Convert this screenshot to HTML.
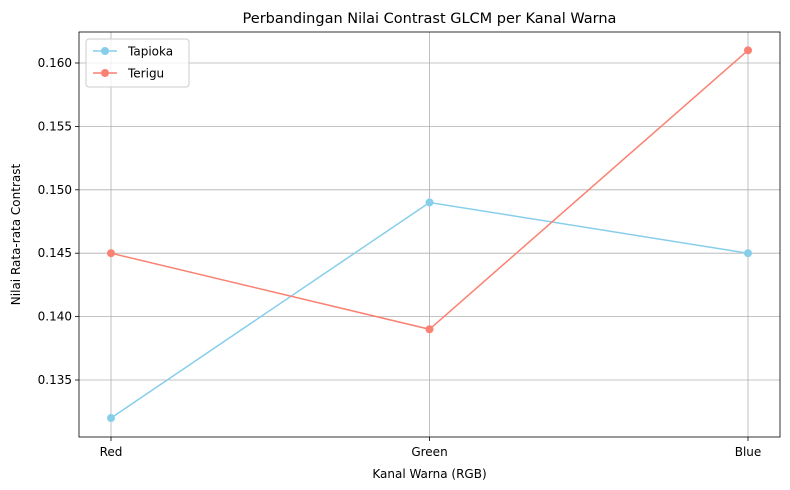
<!DOCTYPE html>
<html><head><meta charset="utf-8"><style>
body{margin:0;background:#fff;}
svg{display:block;font-family:"DejaVu Sans","Liberation Sans",sans-serif;}
</style></head><body>
<svg id="chart" width="790" height="490">
<rect x="0" y="0" width="790" height="490" fill="#fff"/>
<text x="429.5" y="23" text-anchor="middle" font-size="14.5" fill="#000">Perbandingan Nilai Contrast GLCM per Kanal Warna</text>
<g id="grid"></g>
<g id="series"></g>
<rect x="79" y="32" width="701" height="405" fill="none" stroke="#000" stroke-width="0.8"/>
<text x="429.5" y="478" text-anchor="middle" font-size="12">Kanal Warna (RGB)</text>
<text transform="translate(20,234.5) rotate(-90)" text-anchor="middle" font-size="12">Nilai Rata-rata Contrast</text>
<g>
<rect x="86" y="39" width="103" height="48" rx="3" fill="#fff" fill-opacity="0.8" stroke="#ccc"/>
<line x1="93" y1="51" x2="117" y2="51" stroke="#87ceeb" stroke-width="1.5"/>
<circle cx="105" cy="51" r="4" fill="#87ceeb"/>
<text x="128" y="55.5" font-size="12">Tapioka</text>
<line x1="93" y1="73" x2="117" y2="73" stroke="#fa8072" stroke-width="1.5"/>
<circle cx="105" cy="73" r="4" fill="#fa8072"/>
<text x="128" y="77.5" font-size="12">Terigu</text>
</g>
</svg>
<script>
const categories = ["Red","Green","Blue"];
const tapioka = [0.132,0.149,0.145];
const terigu = [0.145,0.139,0.161];
const yTicks = [0.135,0.140,0.145,0.150,0.155,0.160];
const NS="http://www.w3.org/2000/svg";
function xS(i){return 111+i*318.5;}
function yS(v){return 63+(0.160-v)/0.005*63.4;}
const grid=document.getElementById('grid');
function mk(tag,attrs,parent){const e=document.createElementNS(NS,tag);for(const k in attrs)e.setAttribute(k,attrs[k]);parent.appendChild(e);return e;}
yTicks.forEach(t=>{
  const y=yS(t);
  const l=mk('line',{x1:79,x2:780,y1:y,y2:y,stroke:'#b0b0b0','stroke-width':0.8},grid);
  
  
  mk('line',{x1:75,x2:79,y1:y,y2:y,stroke:'#000','stroke-width':0.8},grid);
  const tx=mk('text',{x:72,y:y+4,'text-anchor':'end','font-size':12},grid);
  tx.textContent=t.toFixed(3);
  
  
});
categories.forEach((c,i)=>{
  const x=xS(i);
  const l=mk('line',{x1:x,x2:x,y1:32,y2:437,stroke:'#b0b0b0','stroke-width':0.8},grid);
  
  
  mk('line',{x1:x,x2:x,y1:437,y2:441,stroke:'#000','stroke-width':0.8},grid);
  const tx=mk('text',{x:x,y:456,'text-anchor':'middle','font-size':12},grid);
  tx.textContent=c;
  
  
});
const sg=document.getElementById('series');
[[tapioka,'#87ceeb','tapioka'],[terigu,'#fa8072','terigu']].forEach(([vals,col,name])=>{
  const p=mk('polyline',{points:vals.map((v,i)=>xS(i)+','+yS(v)).join(' '),fill:'none',stroke:col,'stroke-width':1.5},sg);
  
  
  vals.forEach((v,i)=>{
    const c=mk('circle',{cx:xS(i),cy:yS(v),r:4,fill:col},sg);
    
    
  });
});
</script>
</body></html>
